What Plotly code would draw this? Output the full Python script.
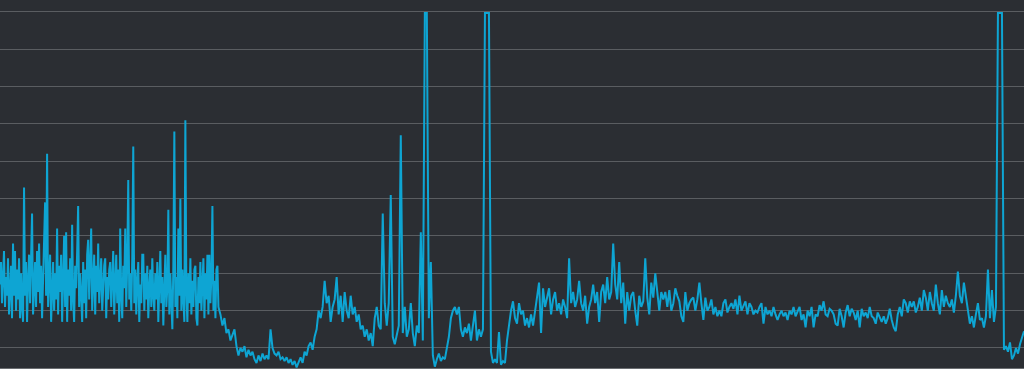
import plotly.graph_objects as go

# Early noisy stretch, one sample per time step
seg_a = [17, 23, 12, 20, 26, 11, 19, 14, 24, 9,
         18, 22, 8, 28, 14, 26, 10, 21, 13, 24,
         8, 20, 11, 7, 43, 14, 23, 7, 18, 25,
         12, 21, 36, 9, 17, 23, 11, 26, 15, 28,
         12, 22, 8, 19, 26, 39, 14, 52, 11, 21,
         25, 7, 17, 23, 10, 20, 13, 32, 9, 22,
         15, 25, 7, 18, 30, 11, 31, 7, 21, 14,
         24, 10, 33, 13, 7, 22, 16, 26, 38, 11,
         20, 14, 7, 23, 12, 21, 8, 25, 29, 13,
         21, 32, 10, 18, 25, 9, 22, 15, 28, 12,
         20, 24, 10, 17, 22, 24, 8, 19, 13, 21,
         23, 11, 17, 26, 9, 20, 25, 12, 21, 7,
         32, 14, 8, 22, 16, 32, 11, 23, 45, 13,
         20, 10, 24, 54, 12, 21, 9, 18, 23, 7,
         17, 12, 25, 25, 10, 20, 13, 22, 8, 16,
         21, 11, 24, 14, 10, 20, 13, 23, 7, 17,
         26, 12, 19, 6, 21, 25, 11, 16, 37, 9,
         20, 13, 5, 22, 58, 11, 19, 8, 32, 14,
         40, 10, 21, 13, 7, 61, 15, 7, 20, 12,
         24, 9, 18, 11, 21, 22, 8, 6, 19, 12,
         23, 10, 17, 24, 8, 20, 13, 25, 9, 25,
         12, 19, 38, 10, 18, 8, 21, 22, 11, 10]
# Later stretches, one sample per two time steps
seg_b = [9, 6, 8, 4, 5, 2, 3.5, 5, 0.5, -2, 0, -1, 0.5, -2.5, -0.5, -2, -1, -3, -4, -2,
         -3.5, -1.5, -3, -2, -3, 5, 0, -1.5, -2, -1, -3, -2.5, -3.5, -2.5, -4, -3, -4.5, -3.5, -5.2, -4,
         -2.5, -4, -1, -2, 0.5, 1.5, -0.5, 3, 5, 10]
seg_c = [8, 11, 18, 12, 14, 7, 11, 13, 19, 9, 14, 7, 15, 10, 8, 14, 9, 11, 7, 9,
         5, 6, 3, 5, 2, 4, 0.5, 8, 11, 6, 5, 36, 12, 6, 12, 41, 3, 1, 4, 6,
         57, 4, 11, 3, 5, 12, 4, 0.5, 6, 4]
seg_d = [31, 2, 89.7, 89.7, 8, 23, -2, -5, -3, -1.5, -3.5, -2.5, -3, 0, 3, 8, 10, 11, 9, 11,
         5, 3, 5.5, 4, 6.5, 2, 5.5, 10, 2, 5, 3, 5, 89.7, 89.7, 89.7, -1, -4, -3, -4, 4.3,
         -4.5, -3.5, -4, 2, 6]
seg_e = [10, 12.5, 8, 6.5, 12, 9, 10, 6, 8, 5.5, 9, 6, 10, 13, 17.5, 4, 16, 11, 14, 16,
         9, 13, 15, 10, 12, 9, 13, 11, 8, 24, 12, 15, 11, 13, 18, 12, 10, 14, 6.5, 11,
         13, 17, 12, 15, 7, 15, 17, 12, 19, 13, 15, 28, 17, 13, 23]
seg_f = [12, 17.5, 6.5, 15, 10, 14, 15, 10, 6, 14, 11, 12.5, 24, 13.5, 9, 17.5, 13.5, 20, 14, 10,
         15, 13, 15, 11, 15.5, 10, 12, 16, 14, 12.5, 8.5, 7, 15, 10, 12, 13, 13.5, 10, 13, 17.5,
         12, 7.5, 13.5, 10, 11, 13, 9, 11, 8.5, 10, 8.5, 12, 13, 9.5, 11, 12, 10.5, 13, 9, 14,
         10, 11.5, 12.5, 9, 12, 11, 9, 10, 9.5, 11, 12, 6.5, 11, 9, 10, 8.5, 11, 9, 7.5, 9,
         10, 8.5, 9.5, 7.5, 10, 9, 11, 8.5, 10, 11, 7.5, 9, 5.5, 10, 8.5, 11, 5.5, 9, 8.5, 11.5]
seg_g = [10, 12.5, 9, 8.5, 10.5, 10, 9, 6.5, 6, 10.5, 8.5, 5.5, 9.5, 11.5, 8.5, 10.5, 9.5, 7.5, 10, 5.5,
         10.5, 8.5, 9.5, 8, 11, 8.5, 8, 6.5, 9.5, 8, 7, 8.5, 6.5, 8, 10.5, 7.5, 5.5, 4.5, 9, 11,
         8.5, 13, 12, 9.5, 12.5, 11, 12.5, 9.5, 11, 13.5, 10, 15.5, 13.5, 10, 15, 12, 10, 17, 12, 9,
         15.5, 11, 14, 12, 11, 13, 9.5, 14, 20.5, 14, 12, 17.5, 13.5, 9, 6.5, 8.5, 5.5, 9, 12, 7.5,
         8, 5.5, 8.5, 21, 8, 15.5, 7, 11, 89.7, 89.7, 89.7, -0.5, 0.5, -1, 1.5, -3, -2, 0, -1.5, 1,
         3, 4.5]

later = seg_b + seg_c + seg_d + seg_e + seg_f + seg_g
values = seg_a + later
time = list(range(len(seg_a))) + [len(seg_a) + 2 * i for i in range(len(later))]

grid_ticks = [0, 10, 20, 30, 40, 50, 60, 70, 80, 90]

fig = go.Figure(
    go.Scatter(
        x=time,
        y=values,
        mode="lines",
        line=dict(color="#0ea5d3", width=2),
        hoverinfo="skip",
    )
)

fig.update_layout(
    width=1024,
    height=369,
    margin=dict(l=0, r=0, t=8, b=1),
    paper_bgcolor="#2b2e33",
    plot_bgcolor="#2b2e33",
    showlegend=False,
)
fig.update_xaxes(
    range=[0, time[-1]],
    showgrid=False,
    zeroline=False,
    showticklabels=False,
    showline=True,
    linecolor="#6a6d71",
    linewidth=1,
)
fig.update_yaxes(
    range=[-5.36, 91.07],
    tickvals=grid_ticks,
    showgrid=True,
    gridcolor="#5a5d61",
    gridwidth=1,
    zeroline=False,
    showticklabels=False,
)

fig.write_html("out.html", config={"displayModeBar": False})
